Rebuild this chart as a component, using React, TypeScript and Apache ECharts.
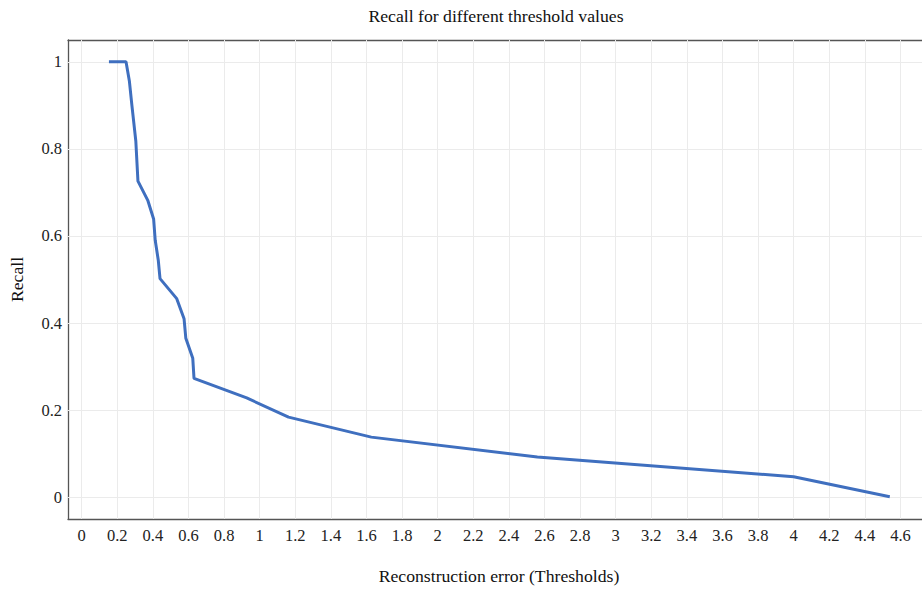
import React, { useEffect, useRef } from "react";
import * as echarts from "echarts";

const thresholds = [0.153, 0.249, 0.268, 0.282, 0.304, 0.316, 0.372, 0.404, 0.413, 0.43, 0.44, 0.534, 0.575, 0.585, 0.624, 0.631, 0.927, 1.162, 1.627, 2.56, 4.0, 4.54];
const recall = [1.0, 1.0, 0.955, 0.9, 0.818, 0.726, 0.681, 0.639, 0.59, 0.545, 0.502, 0.456, 0.41, 0.365, 0.319, 0.273, 0.228, 0.184, 0.138, 0.0926, 0.047, 0.001];
const xTicks = [0, 0.2, 0.4, 0.6, 0.8, 1, 1.2, 1.4, 1.6, 1.8, 2, 2.2, 2.4, 2.6, 2.8, 3, 3.2, 3.4, 3.6, 3.8, 4, 4.2, 4.4, 4.6];
const yTicks = [0, 0.2, 0.4, 0.6, 0.8, 1];

const FONT = "Liberation Serif";

export default function App() {
  const ref = useRef<HTMLDivElement>(null);
  useEffect(() => {
    document.body.style.margin = "0";
    const chart = echarts.init(ref.current!, null, { renderer: "svg" });
    const xMin = -0.077;
    const xMax = 4.721;
    const yMin = -0.05;
    const yMax = 1.05;
    const axisLineColor = "#555";
    const gridColor = "#ebebeb";
    chart.setOption({
      animation: false,
      backgroundColor: "#fff",
      title: {
        text: "Recall for different threshold values",
        left: 491,
        textAlign: "center",
        top: 2,
        textStyle: { fontFamily: FONT, fontSize: 17.7, fontWeight: "normal", color: "#111" },
      },
      grid: { left: 66.7, top: 40, right: 0, bottom: 69, containLabel: false },
      xAxis: [
        {
          type: "value",
          position: "bottom",
          min: xMin,
          max: xMax,
          name: "Reconstruction error (Thresholds)",
          nameLocation: "middle",
          nameGap: 48,
          nameTextStyle: { fontFamily: FONT, fontSize: 17.7, color: "#111", padding: [0, 0, 0, 8] },
          axisLine: { show: true, onZero: false, lineStyle: { color: axisLineColor, width: 1.3 } },
          axisTick: { show: true, inside: true, length: 5, customValues: xTicks, lineStyle: { color: "#777" } },
          axisLabel: {
            customValues: xTicks,
            margin: 8,
            fontFamily: FONT,
            fontSize: 16.5,
            color: "#222",
            formatter: (v: number) => String(+v.toFixed(1)),
          },
          splitLine: { show: false },
        },
        {
          type: "value",
          position: "top",
          min: xMin,
          max: xMax,
          axisLine: { show: true, onZero: false, lineStyle: { color: axisLineColor, width: 1.3 } },
          axisTick: { show: true, inside: true, length: 5, customValues: xTicks, lineStyle: { color: "#777" } },
          axisLabel: { show: false },
          splitLine: { show: false },
        },
      ],
      yAxis: {
        type: "value",
        min: yMin,
        max: yMax,
        name: "Recall",
        nameLocation: "middle",
        nameGap: 42,
        nameTextStyle: { fontFamily: FONT, fontSize: 17.7, color: "#111" },
        axisLine: { show: true, onZero: false, lineStyle: { color: axisLineColor, width: 1.3 } },
        axisTick: { show: true, inside: true, length: 5, customValues: yTicks, lineStyle: { color: "#777" } },
        axisLabel: {
          customValues: yTicks,
          margin: 6,
          fontFamily: FONT,
          fontSize: 16.5,
          color: "#222",
          formatter: (v: number) => String(+v.toFixed(1)),
        },
        splitLine: { show: false },
      },
      series: [
        {
          type: "line",
          data: [],
          z: 1,
          silent: true,
          markLine: {
            silent: true,
            z: 1,
            symbol: ["none", "none"],
            label: { show: false },
            lineStyle: { color: gridColor, width: 1, type: "solid" },
            data: [
              ...xTicks.map((v) => ({ xAxis: v })),
              ...yTicks.map((v) => ({ yAxis: v })),
            ],
          },
        },
        {
          type: "line",
          z: 10,
          data: thresholds.map((t, i) => [t, recall[i]]),
          showSymbol: false,
          symbol: "none",
          lineStyle: { color: "#3f6fbf", width: 3 },
        },
      ],
    });
    return () => chart.dispose();
  }, []);
  return <div ref={ref} style={{ width: 922, height: 590 }} />;
}
